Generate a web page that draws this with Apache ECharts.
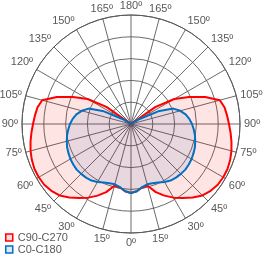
<!DOCTYPE html>
<html>
<head>
<meta charset="utf-8">
<style>html,body{margin:0;padding:0;background:#fff}#c{width:270px;height:258px}</style>
<script src="https://cdn.jsdelivr.net/npm/echarts@6/dist/echarts.min.js"></script>
</head>
<body>
<div id="c"></div>
<script>
// gamma angles (0 = nadir, bottom) in degrees
const gammas = [0,5,10,15,20,25,30,35,40,45,50,55,60,65,70,75,80,85,90,95,100,105,110,115,120,125,130,135,140,145,150,155,160,165,170,175,180];
// C90-C270 intensity (relative units, outer ring = 100)
const c90c270 = [63.3,61.9,59.2,58.7,66.5,72.5,78,83,88.1,92.7,95.4,97.2,97.7,97.7,96.8,95.4,93.6,91.7,89.9,88.5,87.2,84.4,72.5,58.7,45.9,27.5,0,0,0,0,0,0,0,0,0,0,0];
// C0-C180 intensity
const c0c180 = [63.3,61.9,58.7,57.3,57.8,59.2,61.5,63.3,64.2,64.7,65.1,64.7,64.2,63.3,62.4,61,59.6,57.8,56,53.7,50.9,46.8,41.3,27.5,9.2,0,0,0,0,0,0,0,0,0,0,0,0];
const seriesNames = ['C90-C270','C0-C180'];

function loop(vals){
  const d = [];
  for (let i=0;i<gammas.length;i++) d.push([vals[i], gammas[i]]);
  for (let i=gammas.length-1;i>=0;i--) d.push([vals[i], 360-gammas[i]]);
  return d;
}

const chart = echarts.init(document.getElementById('c'), null, {renderer:'canvas'});
const gridColor = '#5a5a5a';
chart.setOption({
  animation:false,
  backgroundColor:'#fff',
  polar:{center:[131,124], radius:109},
  angleAxis:{
    type:'value', min:0, max:360, interval:15, startAngle:270, clockwise:true,
    axisLine:{show:true, lineStyle:{color:gridColor, width:1}},
    axisTick:{show:false},
    splitLine:{show:true, lineStyle:{color:gridColor, width:0.9}},
    axisLabel:{
      margin:4, fontSize:11, color:'#595959', fontFamily:'Liberation Sans',
      formatter:function(v){ if (v===360) return ''; return (v<=180?v:360-v)+'º'; }
    }
  },
  radiusAxis:{
    type:'value', min:0, max:100, interval:20,
    axisLine:{show:false}, axisTick:{show:false}, axisLabel:{show:false},
    splitLine:{show:true, lineStyle:{color:gridColor, width:0.9}}
  },
  legend:{
    orient:'vertical', left:5, top:232, padding:0, itemWidth:7, itemHeight:7, itemGap:1,
    textStyle:{fontSize:11, lineHeight:11, color:'#595959', fontFamily:'Liberation Sans'},
    data:[
      {name:seriesNames[0], icon:'rect', itemStyle:{color:'rgba(255,0,0,0.15)', borderColor:'#ff0000', borderWidth:1.5}},
      {name:seriesNames[1], icon:'rect', itemStyle:{color:'rgba(0,112,192,0.15)', borderColor:'#0070c0', borderWidth:1.5}}
    ]
  },
  series:[
    {name:seriesNames[0], type:'line', coordinateSystem:'polar', data:loop(c90c270),
     symbol:'none', smooth:false, lineStyle:{color:'#ff0000', width:2},
     itemStyle:{color:'#ff0000'},
     areaStyle:{color:'rgba(255,0,0,0.15)'}},
    {name:seriesNames[1], type:'line', coordinateSystem:'polar', data:loop(c0c180),
     symbol:'none', smooth:false, lineStyle:{color:'#0070c0', width:2},
     itemStyle:{color:'#0070c0'},
     areaStyle:{color:'rgba(0,90,170,0.13)'}}
  ]
});
</script>
</body>
</html>
